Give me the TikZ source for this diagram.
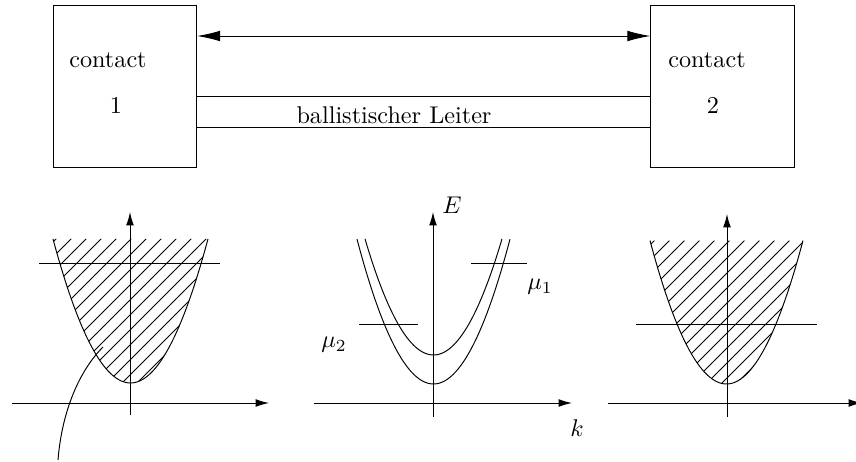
\documentclass[tikz,border=0pt]{standalone}
\usetikzlibrary{arrows.meta}

\begin{document}
\begin{tikzpicture}[x=0.01452cm, y=-0.01452cm,
      contactbox/.style={draw, rectangle, minimum width=2.08cm, minimum height=2.34cm},
      lbl/.style={anchor=base, inner sep=0pt},
      axis/.style={-{Latex[length=5.5pt, width=3.2pt]}},
      dbl/.style={{Latex[length=9.5pt, width=4.4pt]}-{Latex[length=9.5pt, width=4.4pt]}},
      hatch/.style={line width=0.4pt}]

    \useasboundingbox (0,0) rectangle (856,462);

    % contacts and conductor
    \node[contactbox] (c1) at (125,86.5) {};
    \node[contactbox] (c2) at (722.5,86.5) {};
    \node[lbl] (t1) at (108,67) {contact};
    \node[lbl] (n1) at (116,113) {1};
    \node[lbl] (t2) at (707,67) {contact};
    \node[lbl] (n2) at (713,113) {2};

    \draw[dbl] (c1.east |- 0,36) -- (c2.west |- 0,36);
    \draw (c1.east |- 0,96.5) -- (c2.west |- 0,96.5);
    \draw (c1.east |- 0,127) -- (c2.west |- 0,127);
    \node[lbl] (lead) at (394,123) {ballistischer Leiter};

    % left: contact 1
    \begin{scope}
      \clip plot[domain=-77.5:77.5, samples=60] ({130.5+\x},{383-\x*\x/41.7}) -- cycle;
      \foreach \c in {-120,-105,...,240}
        \draw[hatch] (\c,400) -- (\c+170,230);
    \end{scope}
    \draw plot[domain=-77.5:77.5, samples=60] ({130.5+\x},{383-\x*\x/41.7});
    \draw (39,263) -- (220,263);
    \draw[axis] (12,403) -- (269,403);
    \draw[axis] (130,415) -- (130,212);
    \draw (58,460) .. controls (62,410) and (80,370) .. (103,347);

    % middle: conductor bands
    \draw plot[domain=-76.5:76.5, samples=60] ({433.5+\x},{384-\x*\x/40.4});
    \draw plot[domain=-68.5:68.5, samples=60] ({433.5+\x},{355-\x*\x/40.4});
    \draw[axis] (314,403) -- (572,403);
    \draw[axis] (433,417) -- (433,212);
    \draw (471,263) -- (527,263);
    \draw (359,324) -- (418,324);
    \node[lbl, anchor=center] (en) at (452,205) {$E$};
    \node[lbl, anchor=center] (kk) at (577,428) {$k$};
    \node[lbl, anchor=center] (mu1) at (540,287) {$\mu_1$};
    \node[lbl, anchor=center] (mu2) at (334,345) {$\mu_2$};

    % right: contact 2
    \begin{scope}
      \clip plot[domain=-76.5:76.5, samples=60] ({726.5+\x},{384-\x*\x/40.8}) -- cycle;
      \foreach \c in {480,495,...,840}
        \draw[hatch] (\c,400) -- (\c+170,230);
    \end{scope}
    \draw plot[domain=-76.5:76.5, samples=60] ({726.5+\x},{384-\x*\x/40.8});
    \draw (636,324) -- (817,324);
    \draw[axis] (608,403) -- (862,403);
    \draw[axis] (727,417) -- (727,214);
  \end{tikzpicture}
\end{document}
